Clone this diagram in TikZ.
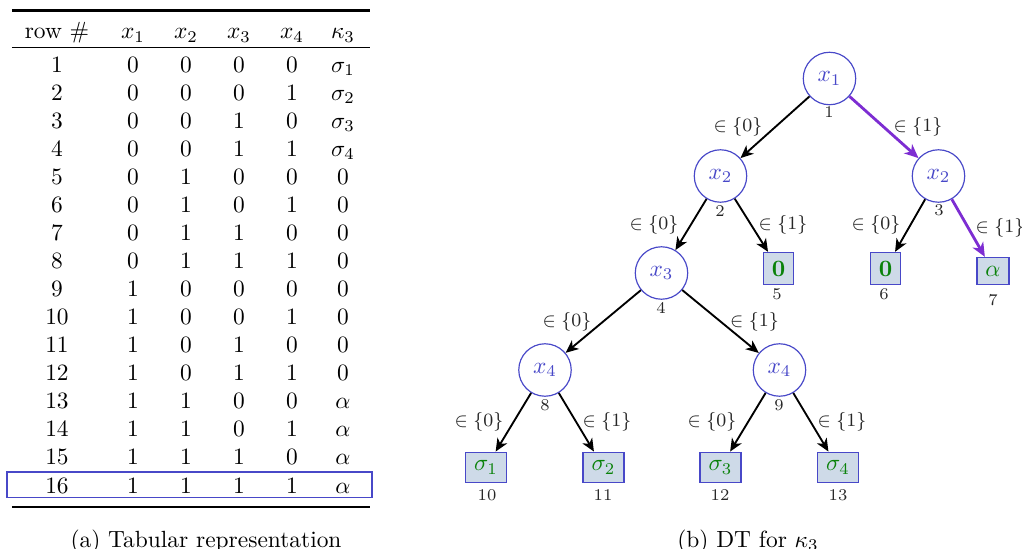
\documentclass[tikz,border=0pt]{standalone}
\usepackage{amsmath,amssymb}
\usetikzlibrary{arrows.meta}
\definecolor{nodeblue}{RGB}{72,72,200}
\definecolor{leaffill}{RGB}{206,218,232}
\definecolor{leafgreen}{RGB}{10,130,10}
\definecolor{pathpurple}{RGB}{125,45,210}
\begin{document}
\begin{tikzpicture}[x=0.427pt,y=-0.427pt,
  inner/.style={circle,draw=nodeblue,text=nodeblue,minimum size=22.4pt,inner sep=0pt,line width=0.5pt},
  leaf/.style={rectangle,draw=nodeblue,fill=leaffill,text=leafgreen,inner sep=3.6pt,line width=0.6pt},
  idx/.style={font=\scriptsize,text=black!85,inner sep=0pt},
  lab/.style={font=\footnotesize,text=black!85,inner sep=0pt},
  edge/.style={draw=black,line width=0.8pt,-{Stealth[length=5.5pt,width=4.8pt,inset=1.6pt]}},
  hot/.style={draw=pathpurple,line width=1.2pt,-{Stealth[length=6pt,width=5.2pt,inset=1.8pt]}},
  cell/.style={anchor=base,inner sep=0pt},
  ]
\useasboundingbox (0,0) rectangle (1022,549);

% ---------------- table ----------------
\draw[line width=1pt] (12,10.5) -- (370,10.5);
\draw[line width=0.6pt] (12,47.5) -- (370,47.5);
\draw[line width=1pt] (12,507) -- (370,507);

\node[cell] (h0) at (57,38.5) {row \#};
\node[cell] (h1) at (133,38.5) {$x_1$};
\node[cell] (h2) at (186,38.5) {$x_2$};
\node[cell] (h3) at (239,38.5) {$x_3$};
\node[cell] (h4) at (292,38.5) {$x_4$};
\node[cell] (h5) at (343,38.5) {$\kappa_3$};

\foreach \r/\a/\b/\c/\d/\k in {
  1/0/0/0/0/{\sigma_1}, 2/0/0/0/1/{\sigma_2}, 3/0/0/1/0/{\sigma_3}, 4/0/0/1/1/{\sigma_4},
  5/0/1/0/0/0, 6/0/1/0/1/0, 7/0/1/1/0/0, 8/0/1/1/1/0,
  9/1/0/0/0/0, 10/1/0/0/1/0, 11/1/0/1/0/0, 12/1/0/1/1/0,
  13/1/1/0/0/\alpha, 14/1/1/0/1/\alpha, 15/1/1/1/0/\alpha, 16/1/1/1/1/\alpha}{
  \pgfmathsetmacro{\yy}{72+28.07*(\r-1)}
  \node[cell] (r\r c0) at (57,\yy) {\r};
  \node[cell] (r\r c1) at (133,\yy) {\a};
  \node[cell] (r\r c2) at (186,\yy) {\b};
  \node[cell] (r\r c3) at (239,\yy) {\c};
  \node[cell] (r\r c4) at (292,\yy) {\d};
  \node[cell] (r\r c5) at (343,\yy) {$\k$};
}
\draw[nodeblue,line width=0.5pt] (7,472) rectangle (372,497.5);

\node[anchor=base,inner sep=0pt] (capa) at (206,547) {(a) Tabular representation};

% ---------------- tree ----------------
\node[inner] (n1) at (829.5,78.5) {$x_1$};
\node[inner] (n2) at (720.5,176) {$x_2$};
\node[inner] (n3) at (938.5,176) {$x_2$};
\node[inner] (n4) at (661.5,273) {$x_3$};
\node[inner] (n8) at (545,370) {$x_4$};
\node[inner] (n9) at (779.5,370) {$x_4$};

\node[leaf] (n5) at (778.5,268.5) {$\mathbf{0}$};
\node[leaf] (n6) at (885.5,268.5) {$\mathbf{0}$};
\node[leaf] (n7) at (993,271) {$\alpha$};
\node[leaf] (n10) at (486,467.5) {$\sigma_1$};
\node[leaf] (n11) at (603.5,467.5) {$\sigma_2$};
\node[leaf] (n12) at (720.5,467.5) {$\sigma_3$};
\node[leaf] (n13) at (838,467.5) {$\sigma_4$};

\node[idx] (i1) at (829,112) {1};
\node[idx] (i2) at (720,211) {2};
\node[idx] (i3) at (939,210) {3};
\node[idx] (i4) at (661,308) {4};
\node[idx] (i5) at (777,294) {5};
\node[idx] (i6) at (884,294) {6};
\node[idx] (i7) at (993,300) {7};
\node[idx] (i8) at (545,405) {8};
\node[idx] (i9) at (779,405) {9};
\node[idx] (i10) at (487,495) {10};
\node[idx] (i11) at (603,495) {11};
\node[idx] (i12) at (720,495) {12};
\node[idx] (i13) at (838,495) {13};

\draw[edge] (n1) -- (n2);
\draw[hot]  (n1) -- (n3);
\draw[edge] (n2) -- (n4);
\draw[edge] (n2) -- (n5);
\draw[edge] (n3) -- (n6);
\draw[hot]  (n3) -- (n7);
\draw[edge] (n4) -- (n8);
\draw[edge] (n4) -- (n9);
\draw[edge] (n8) -- (n10);
\draw[edge] (n8) -- (n11);
\draw[edge] (n9) -- (n12);
\draw[edge] (n9) -- (n13);

\node[lab] (l12) at (738,127) {$\in\{0\}$};
\node[lab] (l13) at (918,127) {$\in\{1\}$};
\node[lab] (l24) at (654,225) {$\in\{0\}$};
\node[lab] (l25) at (783,225) {$\in\{1\}$};
\node[lab] (l36) at (876,225) {$\in\{0\}$};
\node[lab] (l37) at (1000,228) {$\in\{1\}$};
\node[lab] (l48) at (567,322) {$\in\{0\}$};
\node[lab] (l49) at (754.5,322) {$\in\{1\}$};
\node[lab] (l810) at (479,422) {$\in\{0\}$};
\node[lab] (l811) at (607,422) {$\in\{1\}$};
\node[lab] (l912) at (712,422) {$\in\{0\}$};
\node[lab] (l913) at (842,422) {$\in\{1\}$};

\node[anchor=base,inner sep=0pt] (capb) at (748,547) {(b) DT for $\kappa_3$};
\end{tikzpicture}
\end{document}
